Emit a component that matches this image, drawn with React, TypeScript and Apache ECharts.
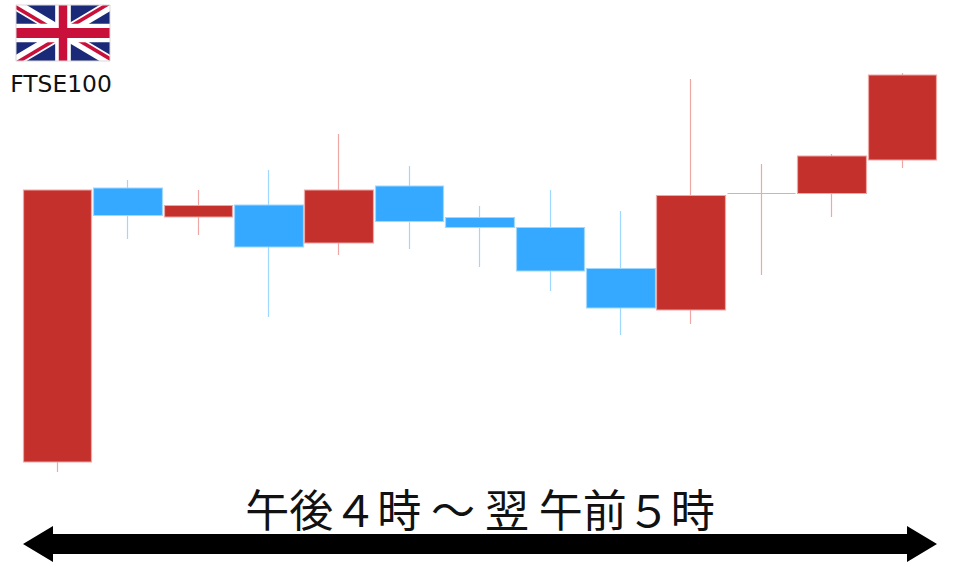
import React, { useEffect, useRef } from "react";
import * as echarts from "echarts";

const sessions = ["1", "2", "3", "4", "5", "6", "7", "8", "9", "10", "11", "12", "13"];
const opens = [38, 312, 283, 295, 257, 314, 282.5, 272.5, 231.5, 190, 306.5, 306.5, 340];
const closes = [310, 284.5, 294.5, 253, 310, 278.5, 272.5, 229, 192, 304.5, 306.5, 344, 425];
const lows = [28, 261, 265, 183, 245, 251, 233, 209, 165, 176, 225, 283, 332];
const highs = [310, 320, 310, 330, 366, 334, 294, 310, 289, 421, 336, 346, 427];

const RED = "#C4302B";
const BLUE = "#35A9FF";
const RED_EDGE = "#EDA8A6";
const BLUE_EDGE = "#A0D7FF";

const FLAG_NAVY = "#1B2A78";
const FLAG_RED = "#C8103A";
const FLAG_X = 16;
const FLAG_Y = 5;
const FLAG_W = 94;
const FLAG_H = 56;

function flagPoly(points: number[][], fill: string) {
  return {
    type: "polygon",
    silent: true,
    shape: {
      points: points.map(([x, y]) => [FLAG_X + (x * FLAG_W) / 60, FLAG_Y + (y * FLAG_H) / 30]),
    },
    style: { fill },
  };
}

function flagGraphics() {
  const white = "#FFFFFF";
  return [
    flagPoly([[0, 0], [60, 0], [60, 30], [0, 30]], FLAG_NAVY),
    flagPoly([[0, 0], [6.7, 0], [60, 26.65], [60, 30], [53.3, 30], [0, 3.35]], white),
    flagPoly([[60, 0], [53.3, 0], [0, 26.65], [0, 30], [6.7, 30], [60, 3.35]], white),
    flagPoly([[0, 0], [30, 15], [25.53, 15], [0, 2.24]], FLAG_RED),
    flagPoly([[60, 30], [30, 15], [34.47, 15], [60, 27.76]], FLAG_RED),
    flagPoly([[0, 30], [30, 15], [30, 17.24], [4.47, 30]], FLAG_RED),
    flagPoly([[60, 0], [30, 15], [30, 12.76], [55.53, 0]], FLAG_RED),
    flagPoly([[25, 0], [35, 0], [35, 30], [25, 30]], white),
    flagPoly([[0, 10], [60, 10], [60, 20], [0, 20]], white),
    flagPoly([[27.3, 0], [32.7, 0], [32.7, 30], [27.3, 30]], FLAG_RED),
    flagPoly([[0, 12.3], [60, 12.3], [60, 17.7], [0, 17.7]], FLAG_RED),
  ];
}

export default function App() {
  const ref = useRef<HTMLDivElement>(null);
  useEffect(() => {
    document.body.style.margin = "0";
    const chart = echarts.init(ref.current!, undefined, { renderer: "svg", width: 960, height: 567 });
    chart.setOption({
      animation: false,
      backgroundColor: "#FFFFFF",
      grid: { left: 22.5, width: 915, top: 60, height: 420 },
      xAxis: {
        type: "category",
        data: sessions,
        show: false,
      },
      yAxis: { type: "value", min: 20, max: 440, show: false },
      series: [
        {
          type: "candlestick",
          barWidth: 69,
          data: sessions.map((_, i) => [opens[i], closes[i], lows[i], highs[i]]),
          itemStyle: {
            color: RED,
            color0: BLUE,
            borderColor: RED_EDGE,
            borderColor0: BLUE_EDGE,
            borderColorDoji: RED_EDGE,
            borderWidth: 1.2,
          },
        },
      ],
      graphic: [
        ...flagGraphics(),
        {
          type: "rect",
          silent: true,
          shape: { x: FLAG_X, y: FLAG_Y, width: FLAG_W, height: FLAG_H },
          style: { fill: "none", stroke: "#D9D9D9", lineWidth: 1 },
        },
        {
          type: "text",
          x: 61,
          y: 84,
          style: {
            text: "FTSE100",
            fill: "#111111",
            font: '23.4px "DejaVu Sans", sans-serif',
            textAlign: "center",
            textVerticalAlign: "middle",
          },
        },
        {
          type: "text",
          x: 480,
          y: 508,
          style: {
            text: "午後４時 ～ 翌 午前５時",
            fill: "#111111",
            font: '44px "Noto Sans CJK JP", sans-serif',
            textAlign: "center",
            textVerticalAlign: "middle",
          },
        },
        {
          type: "polygon",
          silent: true,
          shape: {
            points: [
              [23, 544], [53, 526], [53, 534], [907, 534], [907, 526],
              [937, 544], [907, 562], [907, 554], [53, 554], [53, 562],
            ],
          },
          style: { fill: "#000000" },
        },
      ],
    });
    return () => chart.dispose();
  }, []);
  return <div ref={ref} style={{ width: 960, height: 567 }} />;
}
